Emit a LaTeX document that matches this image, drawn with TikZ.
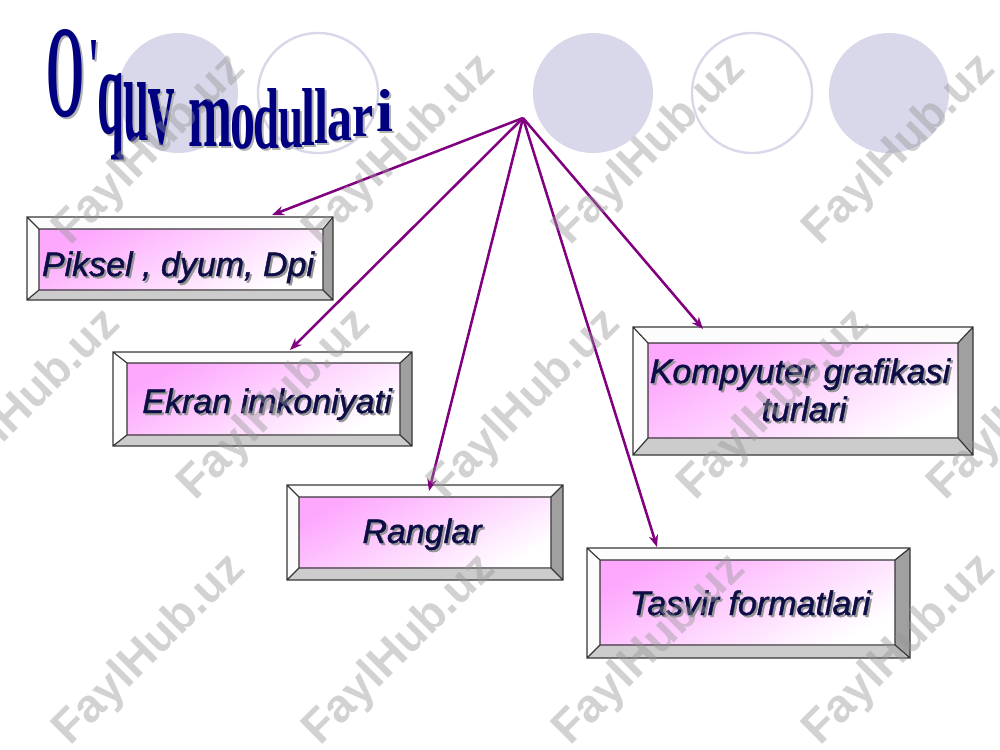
\documentclass[tikz,border=0pt]{standalone}
\usepackage{fontspec}
\usepackage{graphicx}
\usetikzlibrary{arrows.meta,calc}
\newfontfamily\titlefont{Liberation Serif}
\newfontfamily\boxfam{Liberation Sans}[FakeBold=1.2]
\newfontfamily\wmfam{Liberation Sans}
\newlength\pxu \setlength\pxu{0.75pt}
\definecolor{navyT}{RGB}{0,0,128}
\definecolor{tshadow}{RGB}{178,178,178}
\definecolor{lav}{RGB}{216,216,234}
\definecolor{arrowc}{RGB}{128,0,128}
\definecolor{txtc}{RGB}{14,14,70}
\definecolor{txtsh}{RGB}{150,150,150}
\definecolor{pinkA}{RGB}{253,168,253}
\definecolor{pinkB}{RGB}{255,228,255}
\definecolor{bevR}{RGB}{160,160,160}
\definecolor{bevB}{RGB}{204,204,204}
\definecolor{bevT}{RGB}{252,252,252}
\definecolor{edgec}{RGB}{55,55,55}
\definecolor{wmc}{RGB}{150,150,150}
% title letter: name, x, ybase, width, height, char
\newcommand\tlet[6]{%
  \node[tl, text=tshadow] (#1s) at (#2+2.5,#3+2.5) {\resizebox{#4\pxu}{#5\pxu}{\titlefont\bfseries #6}};
  \node[tl, text=navyT] (#1) at (#2,#3) {\resizebox{#4\pxu}{#5\pxu}{\titlefont\bfseries #6}};
}
% bevel box: outer x1 y1 x2 y2, inner x1 y1 x2 y2
\newcommand\bevel[8]{%
  \fill[bevT] (#1,#2) -- (#3,#2) -- (#7,#6) -- (#5,#6) -- cycle;
  \fill[bevT] (#1,#2) -- (#5,#6) -- (#5,#8) -- (#1,#4) -- cycle;
  \fill[bevR] (#3,#2) -- (#3,#4) -- (#7,#8) -- (#7,#6) -- cycle;
  \fill[bevB] (#1,#4) -- (#3,#4) -- (#7,#8) -- (#5,#8) -- cycle;
  \shade[top color=pinkA, middle color=pinkB, bottom color=white, shading angle=28] (#5,#6) rectangle (#7,#8);
  \draw[edgec, line width=0.9pt] (#1,#2) rectangle (#3,#4) (#5,#6) rectangle (#7,#8)
     (#1,#2) -- (#5,#6) (#3,#2) -- (#7,#6) (#1,#4) -- (#5,#8) (#3,#4) -- (#7,#8);
}
\tikzset{
  tl/.style={anchor=base west, inner sep=0pt, outer sep=0pt},
  boxtxt/.style={anchor=base, inner sep=0pt, font=\boxfam\itshape\fontsize{25.5}{30}\selectfont, text=txtc},
  boxsh/.style={boxtxt, text=txtsh},
  conn/.style={draw=arrowc, line width=1.9pt, -{Stealth[length=9pt,width=7pt]}},
  wm/.style={rotate=45, font=\wmfam\bfseries\fontsize{35}{40}\selectfont, text=wmc, text opacity=0.42, inner sep=0pt},
  fcirc/.style={fill=lav},
  ocirc/.style={draw=lav, line width=1.8pt}
}
\begin{document}
\begin{tikzpicture}[x=0.75pt, y=-0.75pt]
\useasboundingbox (0,0) rectangle (1000,750);
\clip (0,0) rectangle (1000,750);
\fill[white] (0,0) rectangle (1000,750);
% circles
\fill[fcirc] (178,93) circle (60);
\draw[ocirc] (318,93) circle (60);
\fill[fcirc] (593,93) circle (60);
\draw[ocirc] (752,93) circle (60);
\fill[fcirc] (889,93) circle (60);
% title
\tlet{tO}{46}{116}{38}{87}{O}
\tlet{tap}{88}{95}{11}{55}{'}
\tlet{tq}{97}{133}{27}{60}{q}
\tlet{tu}{123}{140}{26}{58}{u}
\tlet{tv}{148}{144}{26}{55}{v}
\tlet{tm}{188}{146}{44}{47}{m}
\tlet{to}{230}{148}{25}{43}{o}
\tlet{td}{253}{148}{26}{60}{d}
\tlet{tu2}{278}{147}{25}{38}{u}
\tlet{tl1}{301}{145}{14}{57}{l}
\tlet{tl2}{314}{143}{14}{55}{l}
\tlet{ta}{327}{140}{25}{32}{a}
\tlet{tr}{352}{136}{21}{30}{r}
\tlet{ti}{376}{131}{17}{42}{i}
% boxes
\bevel{27}{217}{333}{300}{39}{229}{323}{290}
\bevel{113}{352}{412}{446}{127}{363}{400}{435}
\bevel{287}{485}{563}{580}{299}{497}{551}{568}
\bevel{633}{327}{973}{455}{648}{343}{958}{438}
\bevel{587}{548}{910}{658}{600}{560}{895}{645}
\node[boxsh] (b1s) at (180,278) {Piksel , dyum, Dpi};
\node[boxtxt] (b1) at (178,276) {Piksel , dyum, Dpi};
\node[boxsh] (b2s) at (269,415) {Ekran imkoniyati};
\node[boxtxt] (b2) at (267,413) {Ekran imkoniyati};
\node[boxsh] (b3s) at (424,545) {Ranglar};
\node[boxtxt] (b3) at (422,543) {Ranglar};
\node[boxsh] (b4as) at (802,385) {Kompyuter grafikasi};
\node[boxtxt] (b4a) at (800,383) {Kompyuter grafikasi};
\node[boxsh] (b4bs) at (806,423) {turlari};
\node[boxtxt] (b4b) at (804,421) {turlari};
\node[boxsh] (b5s) at (752,617) {Tasvir formatlari};
\node[boxtxt] (b5) at (750,615) {Tasvir formatlari};
% connectors
\coordinate (hub) at (523,118);
\coordinate (t1) at (272,215);
\coordinate (t2) at (290,350);
\coordinate (t3) at (429,491);
\coordinate (t4) at (703,329);
\coordinate (t5) at (657,547);
\foreach \t in {t1,t2,t3,t4,t5} \draw[conn] (hub) -- (\t);
% watermarks
\foreach \x/\y [count=\i] in {150/150,400/150,650/150,900/150,25/405,275/405,525/405,775/405,1025/405,150/650,400/650,650/650,900/650}
  \node[wm] (wm\i) at (\x,\y) {FaylHub.uz};
\end{tikzpicture}
\end{document}
